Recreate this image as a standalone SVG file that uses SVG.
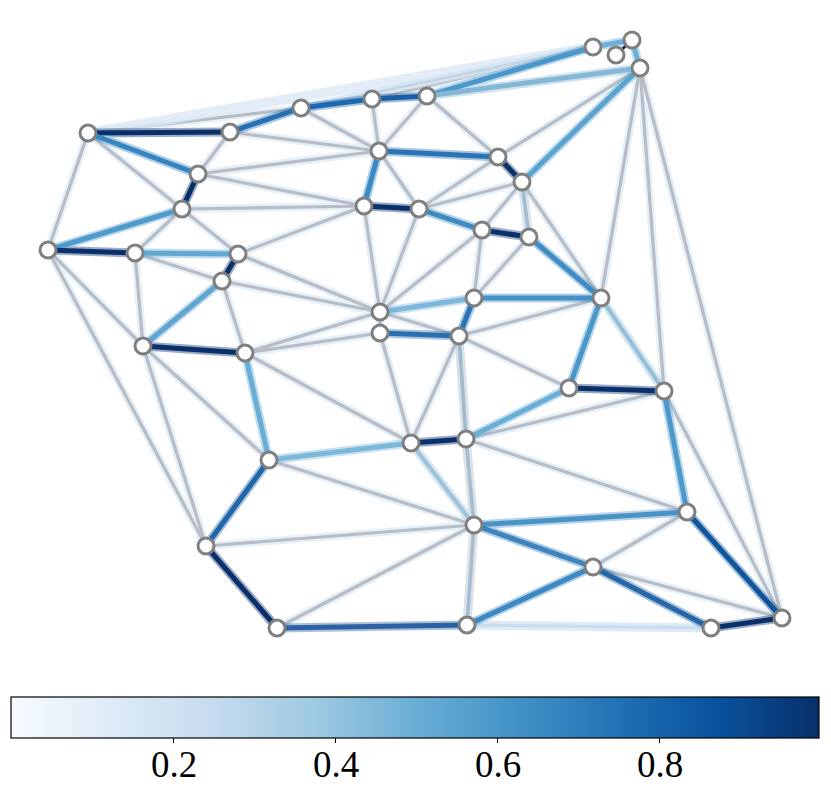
<svg xmlns="http://www.w3.org/2000/svg" width="831" height="797" viewBox="0 0 831 797">
<style>
.gh{stroke:#d3e4f4;stroke-width:8;opacity:.55;stroke-linecap:round}
.gc{stroke:#b7bdc5;stroke-width:3.2;stroke-linecap:round}
.ch{stroke-width:9;opacity:.4;stroke-linecap:round}
.cc{stroke-width:5;stroke-linecap:round}
.nd{fill:#fff;stroke:#7f7f7f;stroke-width:3}
.tk{stroke:#000;stroke-width:1}
.lb{font-family:"Liberation Serif","DejaVu Serif",serif;font-size:37px;fill:#000;text-anchor:middle}
</style>
<defs>
<linearGradient id="blues" x1="0" y1="0" x2="1" y2="0">
<stop offset="0" stop-color="#f7fbff"/>
<stop offset="0.125" stop-color="#deebf7"/>
<stop offset="0.25" stop-color="#c6dbef"/>
<stop offset="0.375" stop-color="#9ecae1"/>
<stop offset="0.5" stop-color="#6baed6"/>
<stop offset="0.625" stop-color="#4292c6"/>
<stop offset="0.75" stop-color="#2171b5"/>
<stop offset="0.875" stop-color="#08519c"/>
<stop offset="1" stop-color="#08306b"/>
</linearGradient>
</defs>
<g id="edges">
<g id="gray-halo" class="gh">
<line x1="88" y1="133" x2="301" y2="108"/>
<line x1="372" y1="99" x2="593" y2="47"/>
<line x1="88" y1="133" x2="182" y2="209"/>
<line x1="88" y1="133" x2="48" y2="250"/>
<line x1="230" y1="132" x2="198" y2="174"/>
<line x1="230" y1="132" x2="379" y2="151"/>
<line x1="301" y1="108" x2="379" y2="151"/>
<line x1="372" y1="99" x2="379" y2="151"/>
<line x1="427" y1="96" x2="379" y2="151"/>
<line x1="427" y1="96" x2="498" y2="157"/>
<line x1="640" y1="68" x2="498" y2="157"/>
<line x1="640" y1="68" x2="601" y2="298"/>
<line x1="640" y1="68" x2="664" y2="391"/>
<line x1="640" y1="68" x2="782" y2="618"/>
<line x1="379" y1="151" x2="198" y2="174"/>
<line x1="379" y1="151" x2="419" y2="209"/>
<line x1="498" y1="157" x2="419" y2="209"/>
<line x1="522" y1="182" x2="419" y2="209"/>
<line x1="522" y1="182" x2="482" y2="230"/>
<line x1="522" y1="182" x2="601" y2="298"/>
<line x1="198" y1="174" x2="364" y2="206"/>
<line x1="182" y1="209" x2="364" y2="206"/>
<line x1="182" y1="209" x2="135" y2="253"/>
<line x1="182" y1="209" x2="238" y2="254"/>
<line x1="364" y1="206" x2="238" y2="254"/>
<line x1="364" y1="206" x2="380" y2="312"/>
<line x1="419" y1="209" x2="380" y2="312"/>
<line x1="482" y1="230" x2="380" y2="312"/>
<line x1="482" y1="230" x2="474" y2="298"/>
<line x1="529" y1="237" x2="474" y2="298"/>
<line x1="48" y1="250" x2="143" y2="346"/>
<line x1="48" y1="250" x2="206" y2="546"/>
<line x1="135" y1="253" x2="222" y2="281"/>
<line x1="135" y1="253" x2="143" y2="346"/>
<line x1="238" y1="254" x2="380" y2="312"/>
<line x1="222" y1="281" x2="380" y2="312"/>
<line x1="222" y1="281" x2="245" y2="353"/>
<line x1="380" y1="312" x2="380" y2="333"/>
<line x1="380" y1="312" x2="459" y2="336"/>
<line x1="380" y1="312" x2="245" y2="353"/>
<line x1="601" y1="298" x2="459" y2="336"/>
<line x1="380" y1="333" x2="245" y2="353"/>
<line x1="380" y1="333" x2="411" y2="443"/>
<line x1="459" y1="336" x2="569" y2="388"/>
<line x1="459" y1="336" x2="411" y2="443"/>
<line x1="143" y1="346" x2="269" y2="460"/>
<line x1="143" y1="346" x2="206" y2="546"/>
<line x1="245" y1="353" x2="411" y2="443"/>
<line x1="664" y1="391" x2="466" y2="439"/>
<line x1="664" y1="391" x2="782" y2="618"/>
<line x1="466" y1="439" x2="687" y2="512"/>
<line x1="269" y1="460" x2="474" y2="525"/>
<line x1="474" y1="525" x2="206" y2="546"/>
<line x1="474" y1="525" x2="277" y2="628"/>
<line x1="687" y1="512" x2="593" y2="567"/>
<line x1="593" y1="567" x2="782" y2="618"/>
</g>
<g id="gray-core" class="gc">
<line x1="88" y1="133" x2="301" y2="108"/>
<line x1="372" y1="99" x2="593" y2="47"/>
<line x1="88" y1="133" x2="182" y2="209"/>
<line x1="88" y1="133" x2="48" y2="250"/>
<line x1="230" y1="132" x2="198" y2="174"/>
<line x1="230" y1="132" x2="379" y2="151"/>
<line x1="301" y1="108" x2="379" y2="151"/>
<line x1="372" y1="99" x2="379" y2="151"/>
<line x1="427" y1="96" x2="379" y2="151"/>
<line x1="427" y1="96" x2="498" y2="157"/>
<line x1="640" y1="68" x2="498" y2="157"/>
<line x1="640" y1="68" x2="601" y2="298"/>
<line x1="640" y1="68" x2="664" y2="391"/>
<line x1="640" y1="68" x2="782" y2="618"/>
<line x1="379" y1="151" x2="198" y2="174"/>
<line x1="379" y1="151" x2="419" y2="209"/>
<line x1="498" y1="157" x2="419" y2="209"/>
<line x1="522" y1="182" x2="419" y2="209"/>
<line x1="522" y1="182" x2="482" y2="230"/>
<line x1="522" y1="182" x2="601" y2="298"/>
<line x1="198" y1="174" x2="364" y2="206"/>
<line x1="182" y1="209" x2="364" y2="206"/>
<line x1="182" y1="209" x2="135" y2="253"/>
<line x1="182" y1="209" x2="238" y2="254"/>
<line x1="364" y1="206" x2="238" y2="254"/>
<line x1="364" y1="206" x2="380" y2="312"/>
<line x1="419" y1="209" x2="380" y2="312"/>
<line x1="482" y1="230" x2="380" y2="312"/>
<line x1="482" y1="230" x2="474" y2="298"/>
<line x1="529" y1="237" x2="474" y2="298"/>
<line x1="48" y1="250" x2="143" y2="346"/>
<line x1="48" y1="250" x2="206" y2="546"/>
<line x1="135" y1="253" x2="222" y2="281"/>
<line x1="135" y1="253" x2="143" y2="346"/>
<line x1="238" y1="254" x2="380" y2="312"/>
<line x1="222" y1="281" x2="380" y2="312"/>
<line x1="222" y1="281" x2="245" y2="353"/>
<line x1="380" y1="312" x2="380" y2="333"/>
<line x1="380" y1="312" x2="459" y2="336"/>
<line x1="380" y1="312" x2="245" y2="353"/>
<line x1="601" y1="298" x2="459" y2="336"/>
<line x1="380" y1="333" x2="245" y2="353"/>
<line x1="380" y1="333" x2="411" y2="443"/>
<line x1="459" y1="336" x2="569" y2="388"/>
<line x1="459" y1="336" x2="411" y2="443"/>
<line x1="143" y1="346" x2="269" y2="460"/>
<line x1="143" y1="346" x2="206" y2="546"/>
<line x1="245" y1="353" x2="411" y2="443"/>
<line x1="664" y1="391" x2="466" y2="439"/>
<line x1="664" y1="391" x2="782" y2="618"/>
<line x1="466" y1="439" x2="687" y2="512"/>
<line x1="269" y1="460" x2="474" y2="525"/>
<line x1="474" y1="525" x2="206" y2="546"/>
<line x1="474" y1="525" x2="277" y2="628"/>
<line x1="687" y1="512" x2="593" y2="567"/>
<line x1="593" y1="567" x2="782" y2="618"/>
</g>
<g id="light-bands">
<line x1="88" y1="133" x2="593" y2="47" stroke="#dce9f6" stroke-width="10" opacity=".8"/>
<line x1="301" y1="108" x2="593" y2="47" stroke="#d3e4f3" stroke-width="8" opacity=".8"/>
<line x1="301" y1="108" x2="593" y2="47" stroke="#c3d3e2" stroke-width="2.5"/>
<line x1="467" y1="625" x2="711" y2="628" stroke="#d6e6f4" stroke-width="9" opacity=".8"/>
<line x1="467" y1="625" x2="711" y2="628" stroke="#c9dcee" stroke-width="3"/>
</g>
<g id="color-halo" class="ch">
<line x1="88" y1="133" x2="230" y2="132" stroke="#0a306b"/>
<line x1="88" y1="133" x2="198" y2="174" stroke="#3584c0"/>
<line x1="230" y1="132" x2="301" y2="108" stroke="#2470b3"/>
<line x1="301" y1="108" x2="372" y2="99" stroke="#1f68ad"/>
<line x1="372" y1="99" x2="427" y2="96" stroke="#1a5fa6"/>
<line x1="427" y1="96" x2="593" y2="47" stroke="#4a97c9"/>
<line x1="427" y1="96" x2="640" y2="68" stroke="#86b6d6"/>
<line x1="593" y1="47" x2="632" y2="40" stroke="#6fb0d8"/>
<line x1="632" y1="40" x2="640" y2="68" stroke="#6fb0d8"/>
<line x1="379" y1="151" x2="498" y2="157" stroke="#2a74b6"/>
<line x1="379" y1="151" x2="364" y2="206" stroke="#3a89c3"/>
<line x1="498" y1="157" x2="522" y2="182" stroke="#0a306b"/>
<line x1="522" y1="182" x2="640" y2="68" stroke="#5aa2cf"/>
<line x1="522" y1="182" x2="529" y2="237" stroke="#a3bdd2"/>
<line x1="198" y1="174" x2="182" y2="209" stroke="#0a306b"/>
<line x1="182" y1="209" x2="48" y2="250" stroke="#4f9bcc"/>
<line x1="364" y1="206" x2="419" y2="209" stroke="#0a306b"/>
<line x1="419" y1="209" x2="482" y2="230" stroke="#3d8ac3"/>
<line x1="482" y1="230" x2="529" y2="237" stroke="#0a306b"/>
<line x1="48" y1="250" x2="135" y2="253" stroke="#0a306b"/>
<line x1="135" y1="253" x2="238" y2="254" stroke="#62a8d3"/>
<line x1="238" y1="254" x2="222" y2="281" stroke="#0a306b"/>
<line x1="222" y1="281" x2="143" y2="346" stroke="#5ea5d1"/>
<line x1="380" y1="312" x2="474" y2="298" stroke="#7db7da"/>
<line x1="474" y1="298" x2="601" y2="298" stroke="#4590c5"/>
<line x1="474" y1="298" x2="459" y2="336" stroke="#2a74b6"/>
<line x1="529" y1="237" x2="601" y2="298" stroke="#3f8bc4"/>
<line x1="380" y1="333" x2="459" y2="336" stroke="#2a70b1"/>
<line x1="601" y1="298" x2="569" y2="388" stroke="#4a97c9"/>
<line x1="601" y1="298" x2="664" y2="391" stroke="#94bfd9"/>
<line x1="569" y1="388" x2="664" y2="391" stroke="#0a306b"/>
<line x1="569" y1="388" x2="466" y2="439" stroke="#6aaed6"/>
<line x1="459" y1="336" x2="466" y2="439" stroke="#a3b9cc"/>
<line x1="143" y1="346" x2="245" y2="353" stroke="#0a306b"/>
<line x1="245" y1="353" x2="269" y2="460" stroke="#6aaed6"/>
<line x1="411" y1="443" x2="466" y2="439" stroke="#0a306b"/>
<line x1="411" y1="443" x2="269" y2="460" stroke="#7db7da"/>
<line x1="411" y1="443" x2="474" y2="525" stroke="#9ec2da"/>
<line x1="466" y1="439" x2="474" y2="525" stroke="#a8bccd"/>
<line x1="269" y1="460" x2="206" y2="546" stroke="#2266aa"/>
<line x1="206" y1="546" x2="277" y2="628" stroke="#0a306b"/>
<line x1="277" y1="628" x2="467" y2="625" stroke="#2b62a3"/>
<line x1="474" y1="525" x2="687" y2="512" stroke="#4a93c6"/>
<line x1="474" y1="525" x2="593" y2="567" stroke="#3d84bd"/>
<line x1="664" y1="391" x2="687" y2="512" stroke="#4c9acb"/>
<line x1="687" y1="512" x2="782" y2="618" stroke="#0f559c"/>
<line x1="593" y1="567" x2="467" y2="625" stroke="#3b88c2"/>
<line x1="593" y1="567" x2="711" y2="628" stroke="#2767a7"/>
<line x1="711" y1="628" x2="782" y2="618" stroke="#0a306b"/>
<line x1="474" y1="525" x2="467" y2="625" stroke="#a8bccd"/>
</g>
<g id="color-core" class="cc">
<line x1="88" y1="133" x2="230" y2="132" stroke="#0a306b"/>
<line x1="88" y1="133" x2="198" y2="174" stroke="#3584c0"/>
<line x1="230" y1="132" x2="301" y2="108" stroke="#2470b3"/>
<line x1="301" y1="108" x2="372" y2="99" stroke="#1f68ad"/>
<line x1="372" y1="99" x2="427" y2="96" stroke="#1a5fa6"/>
<line x1="427" y1="96" x2="593" y2="47" stroke="#4a97c9"/>
<line x1="427" y1="96" x2="640" y2="68" stroke="#86b6d6"/>
<line x1="593" y1="47" x2="632" y2="40" stroke="#6fb0d8"/>
<line x1="632" y1="40" x2="640" y2="68" stroke="#6fb0d8"/>
<line x1="632" y1="40" x2="616" y2="55" stroke="#0a306b" stroke-width="3"/>
<line x1="379" y1="151" x2="498" y2="157" stroke="#2a74b6"/>
<line x1="379" y1="151" x2="364" y2="206" stroke="#3a89c3"/>
<line x1="498" y1="157" x2="522" y2="182" stroke="#0a306b"/>
<line x1="522" y1="182" x2="640" y2="68" stroke="#5aa2cf"/>
<line x1="522" y1="182" x2="529" y2="237" stroke="#a3bdd2" stroke-width="3.6"/>
<line x1="198" y1="174" x2="182" y2="209" stroke="#0a306b"/>
<line x1="182" y1="209" x2="48" y2="250" stroke="#4f9bcc"/>
<line x1="364" y1="206" x2="419" y2="209" stroke="#0a306b"/>
<line x1="419" y1="209" x2="482" y2="230" stroke="#3d8ac3"/>
<line x1="482" y1="230" x2="529" y2="237" stroke="#0a306b"/>
<line x1="48" y1="250" x2="135" y2="253" stroke="#0a306b"/>
<line x1="135" y1="253" x2="238" y2="254" stroke="#62a8d3"/>
<line x1="238" y1="254" x2="222" y2="281" stroke="#0a306b"/>
<line x1="222" y1="281" x2="143" y2="346" stroke="#5ea5d1"/>
<line x1="380" y1="312" x2="474" y2="298" stroke="#7db7da"/>
<line x1="474" y1="298" x2="601" y2="298" stroke="#4590c5"/>
<line x1="474" y1="298" x2="459" y2="336" stroke="#2a74b6"/>
<line x1="529" y1="237" x2="601" y2="298" stroke="#3f8bc4"/>
<line x1="380" y1="333" x2="459" y2="336" stroke="#2a70b1"/>
<line x1="601" y1="298" x2="569" y2="388" stroke="#4a97c9"/>
<line x1="601" y1="298" x2="664" y2="391" stroke="#94bfd9" stroke-width="4"/>
<line x1="569" y1="388" x2="664" y2="391" stroke="#0a306b"/>
<line x1="569" y1="388" x2="466" y2="439" stroke="#6aaed6"/>
<line x1="459" y1="336" x2="466" y2="439" stroke="#a3b9cc" stroke-width="3.6"/>
<line x1="143" y1="346" x2="245" y2="353" stroke="#0a306b"/>
<line x1="245" y1="353" x2="269" y2="460" stroke="#6aaed6"/>
<line x1="411" y1="443" x2="466" y2="439" stroke="#0a306b"/>
<line x1="411" y1="443" x2="269" y2="460" stroke="#7db7da"/>
<line x1="411" y1="443" x2="474" y2="525" stroke="#9ec2da" stroke-width="4"/>
<line x1="466" y1="439" x2="474" y2="525" stroke="#a8bccd" stroke-width="3.6"/>
<line x1="269" y1="460" x2="206" y2="546" stroke="#2266aa"/>
<line x1="206" y1="546" x2="277" y2="628" stroke="#0a306b"/>
<line x1="277" y1="628" x2="467" y2="625" stroke="#2b62a3"/>
<line x1="474" y1="525" x2="687" y2="512" stroke="#4a93c6"/>
<line x1="474" y1="525" x2="593" y2="567" stroke="#3d84bd"/>
<line x1="664" y1="391" x2="687" y2="512" stroke="#4c9acb"/>
<line x1="687" y1="512" x2="782" y2="618" stroke="#0f559c"/>
<line x1="593" y1="567" x2="467" y2="625" stroke="#3b88c2"/>
<line x1="593" y1="567" x2="711" y2="628" stroke="#2767a7"/>
<line x1="711" y1="628" x2="782" y2="618" stroke="#0a306b"/>
<line x1="474" y1="525" x2="467" y2="625" stroke="#a8bccd" stroke-width="3.6"/>
</g>
</g>
<g id="nodes" class="nd">
<circle id="n1" cx="593" cy="47" r="8"/>
<circle id="n2" cx="632" cy="40" r="8"/>
<circle id="n3" cx="616" cy="55" r="8"/>
<circle id="n4" cx="640" cy="68" r="8"/>
<circle id="n5" cx="88" cy="133" r="8"/>
<circle id="n6" cx="230" cy="132" r="8"/>
<circle id="n7" cx="301" cy="108" r="8"/>
<circle id="n8" cx="372" cy="99" r="8"/>
<circle id="n9" cx="427" cy="96" r="8"/>
<circle id="n10" cx="379" cy="151" r="8"/>
<circle id="n11" cx="498" cy="157" r="8"/>
<circle id="n12" cx="522" cy="182" r="8"/>
<circle id="n13" cx="198" cy="174" r="8"/>
<circle id="n14" cx="182" cy="209" r="8"/>
<circle id="n15" cx="364" cy="206" r="8"/>
<circle id="n16" cx="419" cy="209" r="8"/>
<circle id="n17" cx="482" cy="230" r="8"/>
<circle id="n18" cx="529" cy="237" r="8"/>
<circle id="n19" cx="48" cy="250" r="8"/>
<circle id="n20" cx="135" cy="253" r="8"/>
<circle id="n21" cx="238" cy="254" r="8"/>
<circle id="n22" cx="222" cy="281" r="8"/>
<circle id="n23" cx="380" cy="312" r="8"/>
<circle id="n24" cx="474" cy="298" r="8"/>
<circle id="n25" cx="601" cy="298" r="8"/>
<circle id="n26" cx="380" cy="333" r="8"/>
<circle id="n27" cx="459" cy="336" r="8"/>
<circle id="n28" cx="143" cy="346" r="8"/>
<circle id="n29" cx="245" cy="353" r="8"/>
<circle id="n30" cx="569" cy="388" r="8"/>
<circle id="n31" cx="664" cy="391" r="8"/>
<circle id="n32" cx="411" cy="443" r="8"/>
<circle id="n33" cx="466" cy="439" r="8"/>
<circle id="n34" cx="269" cy="460" r="8"/>
<circle id="n35" cx="474" cy="525" r="8"/>
<circle id="n36" cx="687" cy="512" r="8"/>
<circle id="n37" cx="206" cy="546" r="8"/>
<circle id="n38" cx="593" cy="567" r="8"/>
<circle id="n39" cx="277" cy="628" r="8"/>
<circle id="n40" cx="467" cy="625" r="8"/>
<circle id="n41" cx="711" cy="628" r="8"/>
<circle id="n42" cx="782" cy="618" r="8"/>
</g>
<g id="colorbar">
<rect x="11" y="697" width="808" height="41" fill="url(#blues)" stroke="#000" stroke-width="1.2"/>
<g class="tk">
<line x1="173.5" y1="738" x2="173.5" y2="743"/>
<line x1="335.5" y1="738" x2="335.5" y2="743"/>
<line x1="497.5" y1="738" x2="497.5" y2="743"/>
<line x1="659.5" y1="738" x2="659.5" y2="743"/>
</g>
<text class="lb" x="174" y="777">0.2</text>
<text class="lb" x="336" y="777">0.4</text>
<text class="lb" x="498" y="777">0.6</text>
<text class="lb" x="660" y="777">0.8</text>
</g>
</svg>
